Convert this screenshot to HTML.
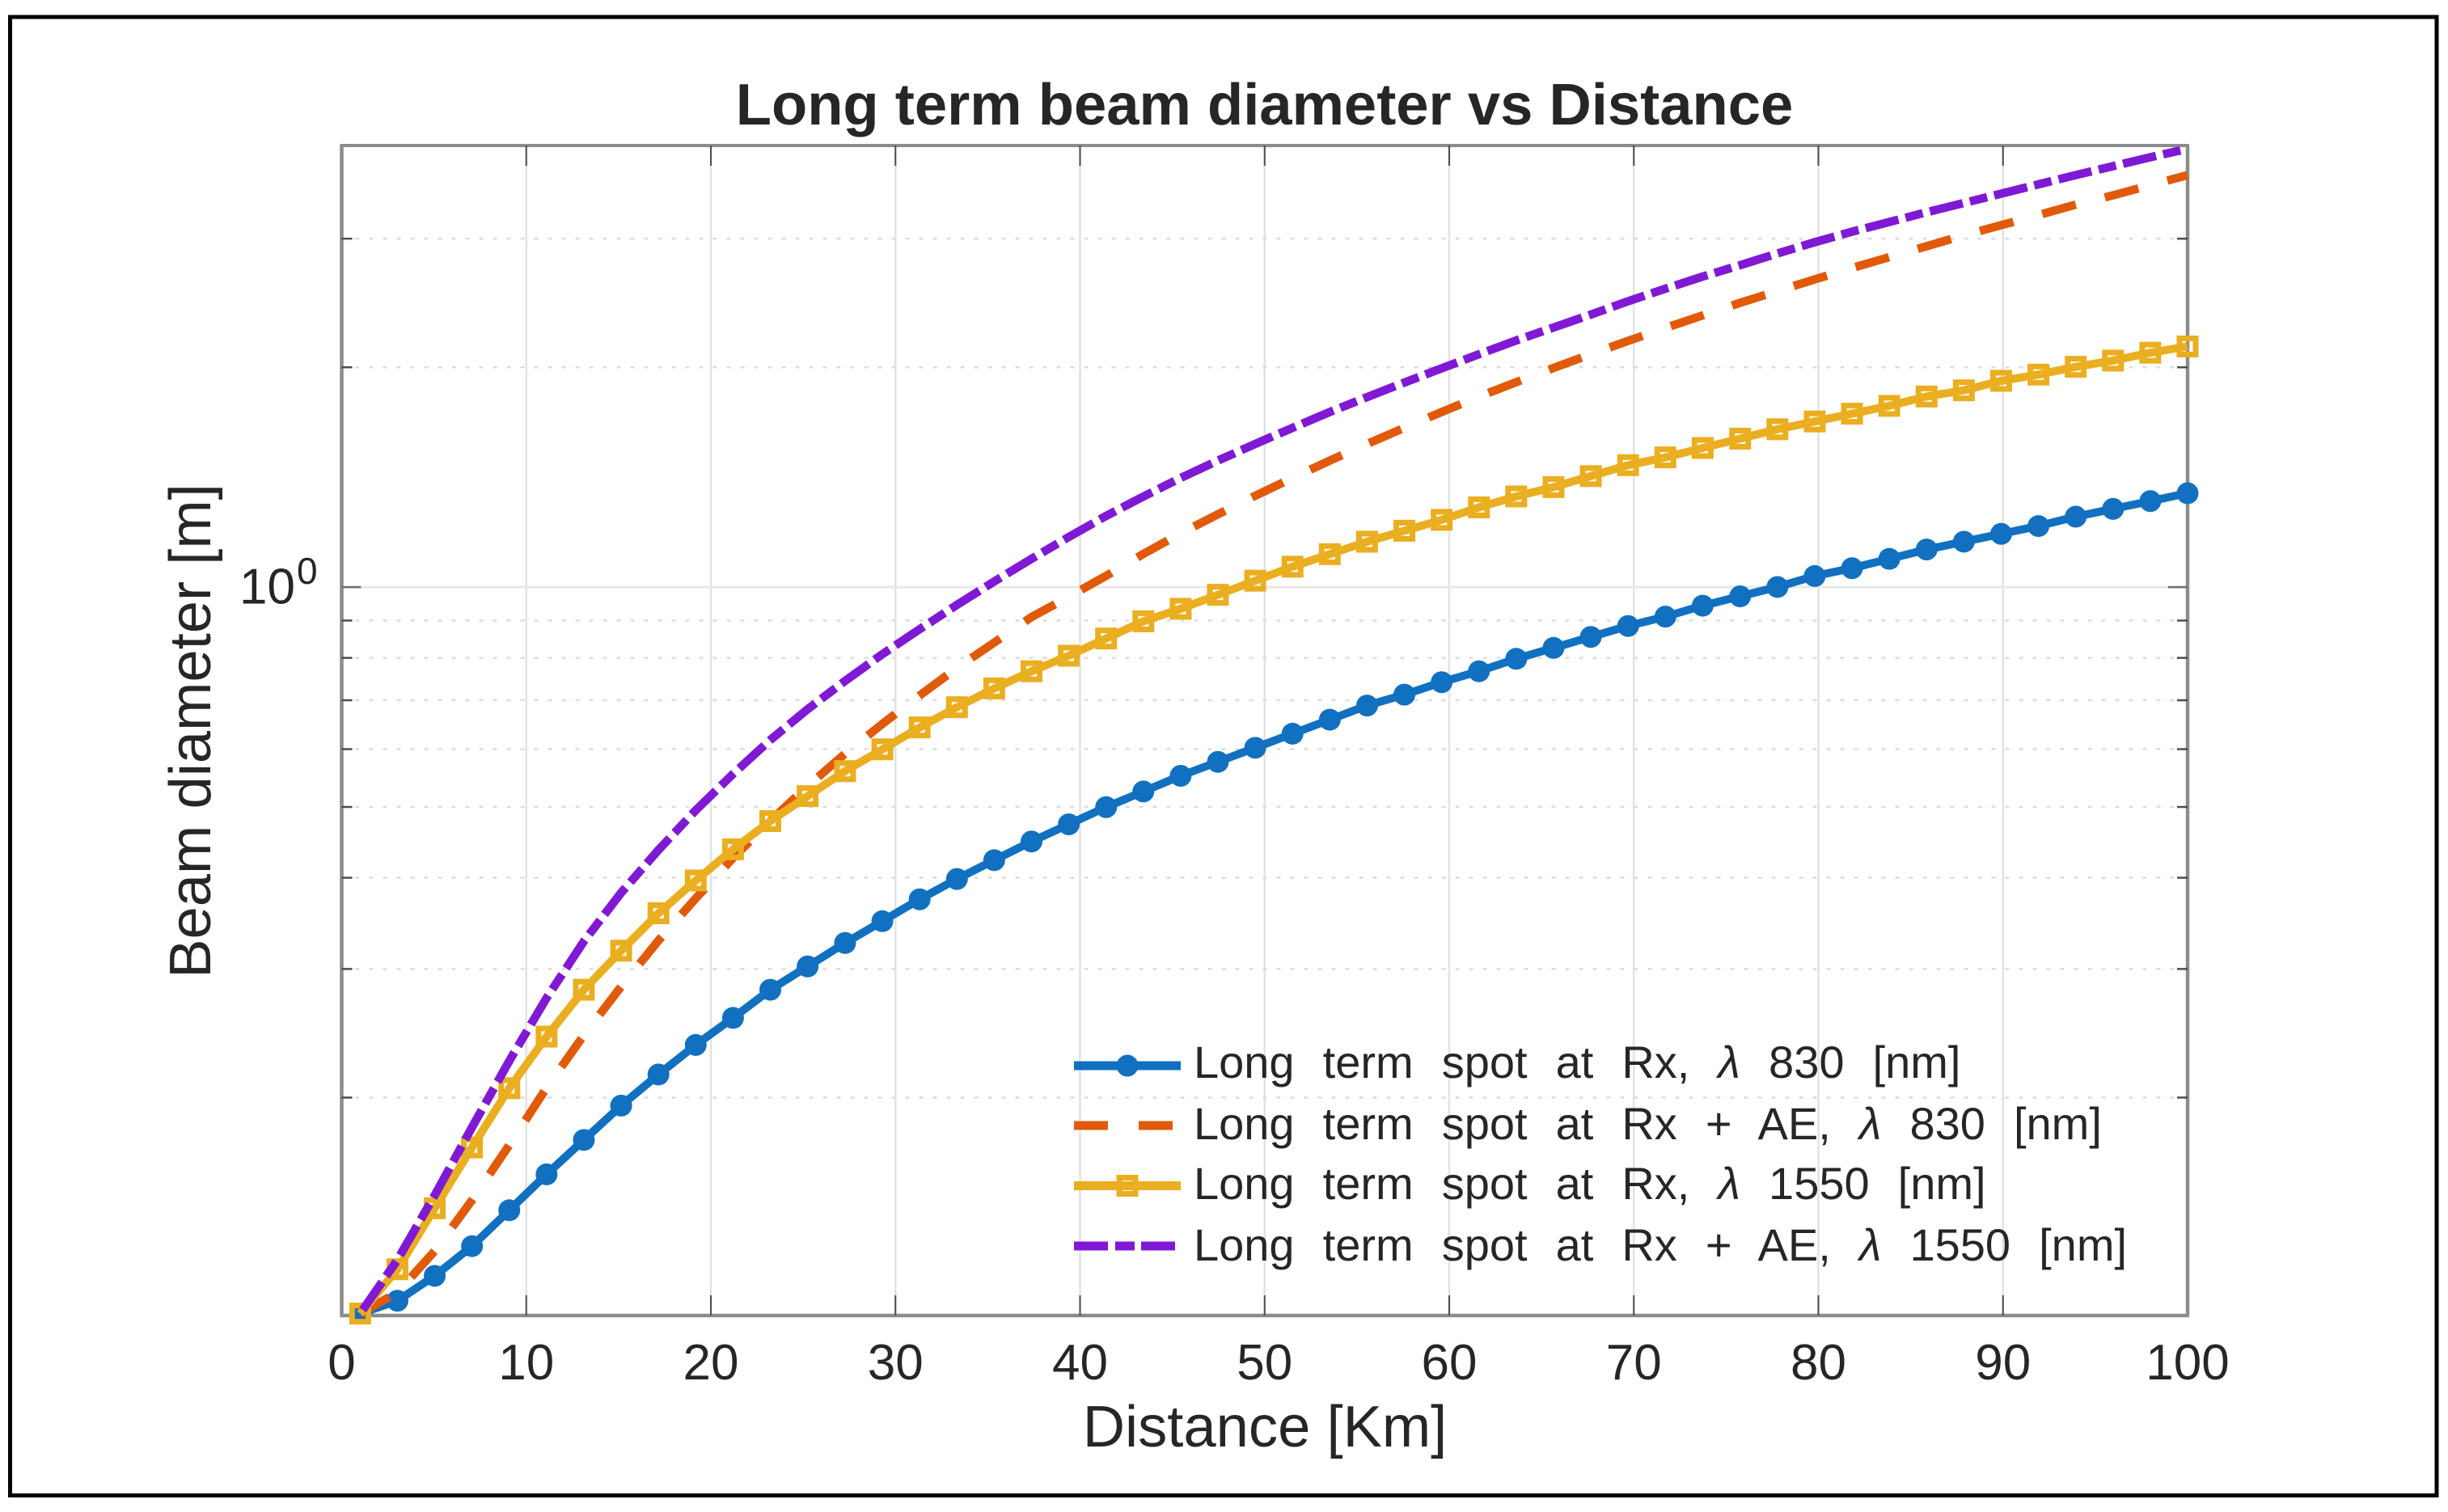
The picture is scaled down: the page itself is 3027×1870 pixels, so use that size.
<!DOCTYPE html>
<html lang="en">
<head>
<meta charset="utf-8">
<title>Long term beam diameter vs Distance</title>
<style>
  html, body { margin: 0; padding: 0; background: #fff; }
  svg { display: block; font-family: "Liberation Sans", sans-serif; }
  text { fill: #262626; }
  .legend-text { font-size: 56px; word-spacing: 19.5px; }
  .tick-text { font-size: 62px; }
</style>
</head>
<body>
<svg id="chart" xmlns="http://www.w3.org/2000/svg" width="3027" height="1870" viewBox="0 0 3027 1870">
  <rect x="0" y="0" width="3027" height="1870" fill="#ffffff"/>
  <rect x="12.5" y="21" width="3000.5" height="1828.5" fill="none" stroke="#000000" stroke-width="5"/>
  <g id="grid"></g>
  <g id="axes"></g>
  <g id="series"></g>
  <g id="tick-labels"></g>

  <text x="1563.5" y="154" text-anchor="middle" font-size="72.4" font-weight="bold">Long term beam diameter vs Distance</text>
  <text x="1564" y="1789" text-anchor="middle" font-size="72.4">Distance [Km]</text>
  <text transform="translate(260 904) rotate(-90)" text-anchor="middle" font-size="72.4">Beam diameter [m]</text>
  <text x="296" y="746.5" class="tick-text">10</text>
  <text x="367" y="722" font-size="46">0</text>

  <g>
    <g>
      <line x1="1328" y1="1318" x2="1460" y2="1318" stroke="#1170BF" stroke-width="11"/>
      <circle cx="1394" cy="1318" r="13.5" fill="#1170BF"/>
      <text class="legend-text" x="1476" y="1333">Long term spot at Rx, <tspan font-style="italic">λ</tspan> 830 [nm]</text>
    </g>
    <g>
      <line x1="1328" y1="1392" x2="1452" y2="1392" stroke="#E05A0A" stroke-width="11" stroke-dasharray="42 38"/>
      <text class="legend-text" x="1476" y="1409">Long term spot at Rx + AE, <tspan font-style="italic">λ</tspan> 830 [nm]</text>
    </g>
    <g>
      <line x1="1328" y1="1466.5" x2="1460" y2="1466.5" stroke="#EAAE21" stroke-width="11"/>
      <rect x="1384" y="1456.5" width="20" height="20" fill="none" stroke="#EAAE21" stroke-width="7"/>
      <text class="legend-text" x="1476" y="1483">Long term spot at Rx, <tspan font-style="italic">λ</tspan> 1550 [nm]</text>
    </g>
    <g>
      <line x1="1328" y1="1541" x2="1453" y2="1541" stroke="#8019D4" stroke-width="11" stroke-dasharray="42 9 24 8"/>
      <text class="legend-text" x="1476" y="1559">Long term spot at Rx + AE, <tspan font-style="italic">λ</tspan> 1550 [nm]</text>
    </g>
  </g>
</svg>

<script>
const distanceKm = [1, 3.02, 5.04, 7.06, 9.08, 11.1, 13.12, 15.14, 17.16, 19.18, 21.2, 23.22, 25.24, 27.27, 29.29, 31.31, 33.33, 35.35, 37.37, 39.39, 41.41, 43.43, 45.45, 47.47, 49.49, 51.51, 53.53, 55.55, 57.57, 59.59, 61.61, 63.63, 65.65, 67.67, 69.69, 71.71, 73.73, 75.76, 77.78, 79.8, 81.82, 83.84, 85.86, 87.88, 89.9, 91.92, 93.94, 95.96, 97.98, 100];

const spot830 = [0.1012, 0.1054, 0.1140, 0.1252, 0.1402, 0.1570, 0.1750, 0.1950, 0.2151, 0.2361, 0.2571, 0.2810, 0.3024, 0.3256, 0.3488, 0.3737, 0.3984, 0.4228, 0.4484, 0.4734, 0.4997, 0.5250, 0.5516, 0.5764, 0.6026, 0.6299, 0.6584, 0.6884, 0.7125, 0.7410, 0.7670, 0.7977, 0.8256, 0.8547, 0.8847, 0.9112, 0.9432, 0.9714, 1.0005, 1.0356, 1.0614, 1.0932, 1.1259, 1.1540, 1.1828, 1.2124, 1.2487, 1.2797, 1.3116, 1.3445];

const spotAE830 = [0.1012, 0.1082, 0.1233, 0.1447, 0.1722, 0.2063, 0.2435, 0.2838, 0.3281, 0.3748, 0.4256, 0.4786, 0.5340, 0.5914, 0.6497, 0.7105, 0.7750, 0.8397, 0.9100, 0.9699, 1.0363, 1.1103, 1.1848, 1.2581, 1.3338, 1.4109, 1.4903, 1.5704, 1.6523, 1.7371, 1.8231, 1.9085, 1.9957, 2.0839, 2.1737, 2.2642, 2.3556, 2.4507, 2.5430, 2.6387, 2.7347, 2.8305, 2.9294, 3.0319, 3.1305, 3.2315, 3.3405, 3.4396, 3.5510, 3.6660];

const spot1550 = [0.1012, 0.1164, 0.1411, 0.1709, 0.2060, 0.2424, 0.2810, 0.3178, 0.3576, 0.3965, 0.4375, 0.4782, 0.5174, 0.5598, 0.5996, 0.6425, 0.6848, 0.7266, 0.7670, 0.8056, 0.8505, 0.8978, 0.9339, 0.9761, 1.0205, 1.0666, 1.1095, 1.1540, 1.1945, 1.2362, 1.2860, 1.3310, 1.3708, 1.4191, 1.4689, 1.5056, 1.5506, 1.5970, 1.6451, 1.6859, 1.7278, 1.7711, 1.8239, 1.8600, 1.9165, 1.9543, 2.0030, 2.0427, 2.0941, 2.1357];

const spotAE1550 = [0.1012, 0.1199, 0.1470, 0.1821, 0.2245, 0.2738, 0.3273, 0.3815, 0.4366, 0.4948, 0.5548, 0.6176, 0.6805, 0.7440, 0.8094, 0.8757, 0.9454, 1.0180, 1.0933, 1.1713, 1.2516, 1.3305, 1.4109, 1.4903, 1.5704, 1.6523, 1.7371, 1.8206, 1.9062, 1.9934, 2.0839, 2.1765, 2.2673, 2.3615, 2.4632, 2.5624, 2.6622, 2.7595, 2.8631, 2.9669, 3.0668, 3.1623, 3.2608, 3.3575, 3.4576, 3.5604, 3.6660, 3.7705, 3.8780, 3.9829];

const xTicks = [0, 10, 20, 30, 40, 50, 60, 70, 80, 90, 100];
const xTickLabels = ['0', '10', '20', '30', '40', '50', '60', '70', '80', '90', '100'];
const yMinorTicks = [0.2, 0.3, 0.4, 0.5, 0.6, 0.7, 0.8, 0.9, 2, 3];
const yMajorTicks = [1];

const NS = 'http://www.w3.org/2000/svg';
const plotLeft = 422.5, plotRight = 2705, plotTop = 180, plotBottom = 1627;
const xMin = 0, xMax = 100;
const yMin = 0.1006, yMax = 4.024;

function xScale(v) {
  return plotLeft + (v - xMin) / (xMax - xMin) * (plotRight - plotLeft);
}
function yScale(v) {
  const lo = Math.log10(yMin), hi = Math.log10(yMax);
  return plotBottom - (Math.log10(v) - lo) / (hi - lo) * (plotBottom - plotTop);
}
function line(parent, x1, y1, x2, y2, stroke, width, dash) {
  const el = document.createElementNS(NS, 'line');
  el.setAttribute('x1', x1);
  el.setAttribute('y1', y1);
  el.setAttribute('x2', x2);
  el.setAttribute('y2', y2);
  el.setAttribute('stroke', stroke);
  el.setAttribute('stroke-width', width);
  if (dash) el.setAttribute('stroke-dasharray', dash);
  parent.appendChild(el);
  return el;
}

const gridG = document.getElementById('grid');
const axesG = document.getElementById('axes');
const seriesG = document.getElementById('series');
const labelsG = document.getElementById('tick-labels');

xTicks.slice(1, -1).forEach(function (t) {
  const g = line(gridG, xScale(t), plotTop, xScale(t), plotBottom, '#e2e2e2', 2.5);
  
  
});
yMajorTicks.forEach(function (t) {
  const g = line(gridG, plotLeft, yScale(t), plotRight, yScale(t), '#e8e8e8', 3);
  
  
});
yMinorTicks.forEach(function (t) {
  const g = line(gridG, plotLeft, yScale(t), plotRight, yScale(t), '#dcdcdc', 2.5, '5 12');
  
  
});

const frameTop = line(axesG, plotLeft - 2, plotTop, plotRight + 2, plotTop, '#8c8c8c', 4);


const frameBottom = line(axesG, plotLeft - 2, plotBottom, plotRight + 2, plotBottom, '#8c8c8c', 4.5);


const frameLeft = line(axesG, plotLeft, plotTop, plotLeft, plotBottom, '#8c8c8c', 4.5);


const frameRight = line(axesG, plotRight, plotTop, plotRight, plotBottom, '#8c8c8c', 4.5);



xTicks.forEach(function (t, i) {
  if (i > 0 && i < xTicks.length - 1) {
    const a = line(axesG, xScale(t), plotBottom, xScale(t), plotBottom - 25, '#4d4d4d', 2);
    
    
    const b = line(axesG, xScale(t), plotTop, xScale(t), plotTop + 25, '#4d4d4d', 2);
    
    
  }
  const label = document.createElementNS(NS, 'text');
  
  
  label.setAttribute('x', xScale(t));
  label.setAttribute('y', 1706);
  label.setAttribute('text-anchor', 'middle');
  label.setAttribute('class', 'tick-text');
  label.textContent = xTickLabels[i];
  labelsG.appendChild(label);
});

yMajorTicks.forEach(function (t) {
  const a = line(axesG, plotLeft, yScale(t), plotLeft + 24, yScale(t), '#6e6e6e', 2.5);
  
  
  const b = line(axesG, plotRight, yScale(t), plotRight - 24, yScale(t), '#6e6e6e', 2.5);
  
  
});
yMinorTicks.forEach(function (t) {
  const a = line(axesG, plotLeft, yScale(t), plotLeft + 13, yScale(t), '#4d4d4d', 2.5);
  
  
  const b = line(axesG, plotRight, yScale(t), plotRight - 13, yScale(t), '#4d4d4d', 2.5);
  
  
});

function seriesPath(values) {
  return values.map(function (v, i) {
    return xScale(distanceKm[i]).toFixed(2) + ',' + yScale(v).toFixed(2);
  }).join(' ');
}
function drawSeries(values, color, width, dash) {
  const poly = document.createElementNS(NS, 'polyline');
  poly.setAttribute('points', seriesPath(values));
  poly.setAttribute('fill', 'none');
  poly.setAttribute('stroke', color);
  poly.setAttribute('stroke-width', width);
  poly.setAttribute('stroke-linejoin', 'round');
  if (dash) poly.setAttribute('stroke-dasharray', dash);
  seriesG.appendChild(poly);
  return poly;
}

const line830 = drawSeries(spot830, '#1170BF', 10);


spot830.forEach(function (v, i) {
  const c = document.createElementNS(NS, 'circle');
  
  
  c.setAttribute('cx', xScale(distanceKm[i]));
  c.setAttribute('cy', yScale(v));
  c.setAttribute('r', 13.5);
  c.setAttribute('fill', '#1170BF');
  seriesG.appendChild(c);
});

const lineAE830 = drawSeries(spotAE830, '#E05A0A', 10.5, '43 37');


lineAE830.setAttribute('stroke-dashoffset', 26 - lineAE830.getTotalLength());

const line1550 = drawSeries(spot1550, '#EAAE21', 10);


spot1550.forEach(function (v, i) {
  const r = document.createElementNS(NS, 'rect');
  
  
  r.setAttribute('x', xScale(distanceKm[i]) - 10);
  r.setAttribute('y', yScale(v) - 10);
  r.setAttribute('width', 20);
  r.setAttribute('height', 20);
  r.setAttribute('fill', 'none');
  r.setAttribute('stroke', '#EAAE21');
  r.setAttribute('stroke-width', 7);
  seriesG.appendChild(r);
});

const lineAE1550 = drawSeries(spotAE1550, '#8019D4', 10.5, '42 9 22 9');


lineAE1550.setAttribute('stroke-dashoffset', 82 - lineAE1550.getTotalLength());
</script>
</body>
</html>
